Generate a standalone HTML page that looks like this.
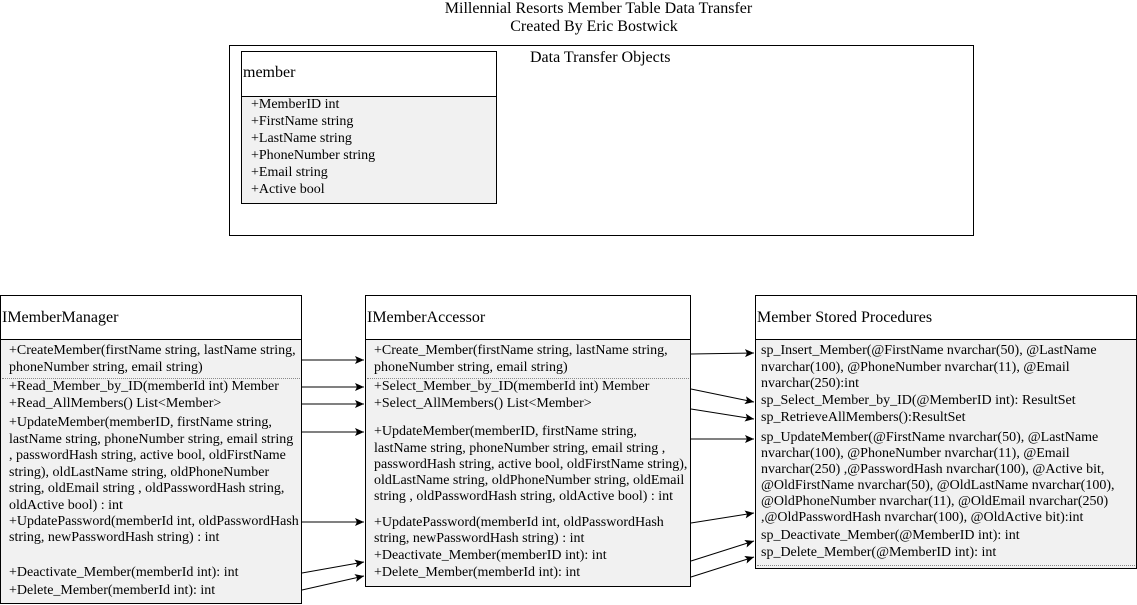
<!DOCTYPE html>
<html><head><meta charset="utf-8"><style>
*{margin:0;padding:0;box-sizing:border-box}
body{width:1137px;height:605px;background:#fff;position:relative;overflow:hidden;font-family:"Liberation Serif",serif;font-size:14px;color:#000}
.b{position:absolute;border:1px solid #000;background:#f1f1f1}
.h{position:absolute;background:#fff;border:1px solid #000}
.t{position:absolute;white-space:nowrap;line-height:16px;height:16px}
.d{position:absolute;border-top:1px dotted #888;height:0}
.k{font-size:16px}
svg{position:absolute;left:0;top:0}
</style></head><body>
<div class="t k" style="left:0;width:1197px;text-align:center;top:1px">Millennial Resorts Member Table Data Transfer</div>
<div class="t k" style="left:0;width:1188px;text-align:center;top:19px">Created By Eric Bostwick</div>
<div style="position:absolute;left:229px;top:45px;width:745px;height:191px;border:1px solid #000"></div>
<div class="t k" style="left:530px;top:50px">Data Transfer Objects</div>
<div class="b" style="left:241px;top:51px;width:256px;height:153px"></div>
<div class="h" style="left:241px;top:51px;width:256px;height:46px"></div>
<div class="t k" style="left:243px;top:65px">member</div>
<div class="t" style="left:251px;top:97px">+MemberID int</div>
<div class="t" style="left:251px;top:114px">+FirstName string</div>
<div class="t" style="left:251px;top:131px">+LastName string</div>
<div class="t" style="left:251px;top:148px">+PhoneNumber string</div>
<div class="t" style="left:251px;top:165px">+Email string</div>
<div class="t" style="left:251px;top:182px">+Active bool</div>

<div class="b" style="left:0;top:295px;width:302px;height:309px"></div>
<div class="h" style="left:0;top:295px;width:302px;height:45px"></div>
<div class="t k" style="left:2px;top:310px">IMemberManager</div>
<div class="t" style="left:9px;top:343px">+CreateMember(firstName string, lastName string,</div>
<div class="t" style="left:9px;top:360px">phoneNumber string, email string)</div>
<div class="d" style="left:2px;top:378px;width:298px"></div>
<div class="t" style="left:9px;top:379px">+Read_Member_by_ID(memberId int) Member</div>
<div class="t" style="left:9px;top:396px">+Read_AllMembers() List&lt;Member&gt;</div>
<div class="t" style="left:9px;top:415px">+UpdateMember(memberID, firstName string,</div>
<div class="t" style="left:9px;top:432px">lastName string, phoneNumber string, email string</div>
<div class="t" style="left:9px;top:448px">, passwordHash string, active bool, oldFirstName</div>
<div class="t" style="left:9px;top:465px">string), oldLastName string, oldPhoneNumber</div>
<div class="t" style="left:9px;top:481px">string, oldEmail string , oldPasswordHash string,</div>
<div class="t" style="left:9px;top:498px">oldActive bool) : int</div>
<div class="t" style="left:9px;top:514px">+UpdatePassword(memberId int, oldPasswordHash</div>
<div class="t" style="left:9px;top:530px">string, newPasswordHash string) : int</div>
<div class="t" style="left:9px;top:565px">+Deactivate_Member(memberId int): int</div>
<div class="t" style="left:9px;top:583px">+Delete_Member(memberId int): int</div>

<div class="b" style="left:365px;top:295px;width:326px;height:292px"></div>
<div class="h" style="left:365px;top:295px;width:326px;height:45px"></div>
<div class="t k" style="left:367px;top:310px">IMemberAccessor</div>
<div class="t" style="left:374px;top:343px">+Create_Member(firstName string, lastName string,</div>
<div class="t" style="left:374px;top:360px">phoneNumber string, email string)</div>
<div class="d" style="left:367px;top:378px;width:322px"></div>
<div class="t" style="left:374px;top:379px">+Select_Member_by_ID(memberId int) Member</div>
<div class="t" style="left:374px;top:396px">+Select_AllMembers() List&lt;Member&gt;</div>
<div class="t" style="left:374px;top:424px">+UpdateMember(memberID, firstName string,</div>
<div class="t" style="left:374px;top:441px">lastName string, phoneNumber string, email string ,</div>
<div class="t" style="left:374px;top:457px">passwordHash string, active bool, oldFirstName string),</div>
<div class="t" style="left:374px;top:473px">oldLastName string, oldPhoneNumber string, oldEmail</div>
<div class="t" style="left:374px;top:489px">string , oldPasswordHash string, oldActive bool) : int</div>
<div class="t" style="left:374px;top:515px">+UpdatePassword(memberId int, oldPasswordHash</div>
<div class="t" style="left:374px;top:531px">string, newPasswordHash string) : int</div>
<div class="t" style="left:374px;top:548px">+Deactivate_Member(memberID int): int</div>
<div class="t" style="left:374px;top:565px">+Delete_Member(memberId int): int</div>

<div class="b" style="left:755px;top:295px;width:382px;height:274px"></div>
<div class="h" style="left:755px;top:295px;width:382px;height:45px"></div>
<div class="t k" style="left:757px;top:310px">Member Stored Procedures</div>
<div class="t" style="left:761px;top:343px">sp_Insert_Member(@FirstName nvarchar(50), @LastName</div>
<div class="t" style="left:761px;top:360px">nvarchar(100), @PhoneNumber nvarchar(11), @Email</div>
<div class="t" style="left:761px;top:376px">nvarchar(250):int</div>
<div class="t" style="left:761px;top:393px">sp_Select_Member_by_ID(@MemberID int): ResultSet</div>
<div class="t" style="left:761px;top:410px">sp_RetrieveAllMembers():ResultSet</div>
<div class="t" style="left:761px;top:430px">sp_UpdateMember(@FirstName nvarchar(50), @LastName</div>
<div class="t" style="left:761px;top:446px">nvarchar(100), @PhoneNumber nvarchar(11), @Email</div>
<div class="t" style="left:761px;top:462px">nvarchar(250) ,@PasswordHash nvarchar(100), @Active bit,</div>
<div class="t" style="left:761px;top:478px">@OldFirstName nvarchar(50), @OldLastName nvarchar(100),</div>
<div class="t" style="left:761px;top:494px">@OldPhoneNumber nvarchar(11), @OldEmail nvarchar(250)</div>
<div class="t" style="left:761px;top:510px">,@OldPasswordHash nvarchar(100), @OldActive bit):int</div>
<div class="t" style="left:761px;top:528px">sp_Deactivate_Member(@MemberID int): int</div>
<div class="t" style="left:761px;top:545px">sp_Delete_Member(@MemberID int): int</div>
<div class="d" style="left:757px;top:565px;width:378px"></div>

<svg width="1137" height="605">
<defs><marker id="a" markerWidth="10" markerHeight="8" refX="9" refY="4" orient="auto" markerUnits="userSpaceOnUse"><path d="M0,0 L9,4 L0,8 L2,4 Z" fill="#000"/></marker></defs>
<g stroke="#000" stroke-width="1" marker-end="url(#a)">
<line x1="302" y1="360" x2="364" y2="360"/>
<line x1="302" y1="387" x2="364" y2="387"/>
<line x1="302" y1="404" x2="364" y2="404"/>
<line x1="302" y1="432" x2="364" y2="432"/>
<line x1="302" y1="522" x2="364" y2="522"/>
<line x1="302" y1="573" x2="364" y2="562"/>
<line x1="302" y1="590" x2="364" y2="576"/>
<line x1="691" y1="354" x2="754" y2="353"/>
<line x1="691" y1="389" x2="754" y2="402"/>
<line x1="691" y1="409" x2="754" y2="419"/>
<line x1="691" y1="439" x2="754" y2="439"/>
<line x1="691" y1="523" x2="754" y2="513"/>
<line x1="691" y1="561" x2="754" y2="541"/>
<line x1="691" y1="577" x2="754" y2="557"/>
</g></svg>
</body></html>
